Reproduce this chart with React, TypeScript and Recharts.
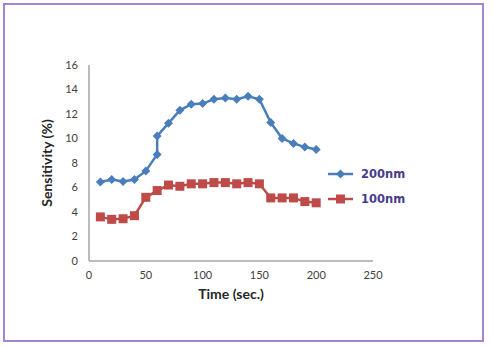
import { LineChart, Line, XAxis, YAxis, Legend } from "recharts";

// sensor response over time for two film thicknesses
const time200 = [10, 20, 30, 40, 50, 60, 60, 70, 80, 90, 100, 110, 120, 130, 140, 150, 160, 170, 180, 190, 200];
const sens200 = [6.45, 6.65, 6.5, 6.65, 7.35, 8.7, 10.2, 11.25, 12.3, 12.8, 12.85, 13.2, 13.3, 13.2, 13.45, 13.2, 11.3, 10.0, 9.6, 9.3, 9.1];

const time100 = [10, 20, 30, 40, 50, 60, 70, 80, 90, 100, 110, 120, 130, 140, 150, 160, 170, 180, 190, 200];
const sens100 = [3.6, 3.4, 3.45, 3.7, 5.2, 5.75, 6.2, 6.1, 6.3, 6.3, 6.4, 6.4, 6.3, 6.4, 6.3, 5.15, 5.15, 5.15, 4.85, 4.75];

const xTicks = [0, 50, 100, 150, 200, 250];
const yTicks = [0, 2, 4, 6, 8, 10, 12, 14, 16];

const BLUE = "#4a7ebb";
const RED = "#be4b48";
const AXIS = "#a6a6a6";
const FONT = "Lato, 'Open Sans', sans-serif";

const data200 = time200.map((t, i) => ({ t, v: sens200[i] }));
const data100 = time100.map((t, i) => ({ t, v: sens100[i] }));

const tickStyle = { fill: "#404040", fontSize: 11, fontFamily: FONT };

function Diamond(props: any) {
  const { cx, cy, index } = props;
  const r = 4.5;
  return (
    <path
      key={`d-${index}`}
      d={`M${cx},${cy - r}L${cx + r},${cy}L${cx},${cy + r}L${cx - r},${cy}Z`}
      fill={BLUE}
    />
  );
}

function Square(props: any) {
  const { cx, cy, index } = props;
  const s = 4.5;
  return <rect key={`s-${index}`} x={cx - s} y={cy - s} width={s * 2} height={s * 2} fill={RED} />;
}

function LegendBox() {
  const rows = [
    { name: "200nm", color: BLUE, square: false },
    { name: "100nm", color: RED, square: true },
  ];
  return (
    <div style={{ fontFamily: "'DejaVu Sans', sans-serif" }}>
      {rows.map((r) => (
        <div key={r.name} style={{ display: "flex", alignItems: "center", height: 25 }}>
          <svg width={30} height={12}>
            <line x1={2} y1={6} x2={27} y2={6} stroke={r.color} strokeWidth={2.5} />
            {r.square ? (
              <rect x={10} y={1.5} width={9} height={9} fill={r.color} />
            ) : (
              <path d="M14.5,1.5L19,6L14.5,10.5L10,6Z" fill={r.color} />
            )}
          </svg>
          <span style={{ marginLeft: 5, fontSize: 11.5, fontWeight: 700, color: "#4a3b8c" }}>{r.name}</span>
        </div>
      ))}
    </div>
  );
}

export default function App() {
  return (
    <div
      style={{
        position: "absolute",
        left: 0,
        top: 0,
        width: 494,
        height: 346,
        background: "#fff",
      }}
    >
      <div
        style={{
          position: "absolute",
          left: 3,
          top: 3,
          width: 477,
          height: 335,
          border: "2px solid #a386cf",
        }}
      />
      <LineChart
        width={494}
        height={346}
        margin={{ top: 65, right: 121, bottom: 40, left: 44 }}
        style={{ position: "absolute", left: 0, top: 0 }}
      >
        <XAxis
          dataKey="t"
          type="number"
          domain={[0, 250]}
          ticks={xTicks}
          tick={tickStyle}
          tickLine={false}
          tickMargin={4}
          axisLine={{ stroke: AXIS, strokeWidth: 1.5 }}
          height={45}
          allowDuplicatedCategory
          label={{
            value: "Time (sec.)",
            position: "insideBottom",
            offset: 7,
            style: { fill: "#262626", fontSize: 14, fontWeight: 700, fontFamily: FONT },
          }}
        />
        <YAxis
          type="number"
          domain={[0, 16]}
          ticks={yTicks}
          tick={tickStyle}
          tickLine={false}
          tickMargin={5}
          axisLine={{ stroke: AXIS, strokeWidth: 1.5 }}
          width={45}
          label={{
            value: "Sensitivity (%)",
            angle: -90,
            position: "insideLeft",
            offset: 3,
            style: { fill: "#262626", fontSize: 14, fontWeight: 700, fontFamily: FONT, textAnchor: "middle" },
          }}
        />
        <Legend
          layout="vertical"
          align="center"
          verticalAlign="middle"
          content={<LegendBox />}
          wrapperStyle={{ left: 326, top: 161, width: 120 }}
        />
        <Line
          data={data200}
          dataKey="v"
          name="200nm"
          stroke={BLUE}
          strokeWidth={2.5}
          dot={Diamond}
          activeDot={false}
          isAnimationActive={false}
        />
        <Line
          data={data100}
          dataKey="v"
          name="100nm"
          stroke={RED}
          strokeWidth={2.5}
          dot={Square}
          activeDot={false}
          isAnimationActive={false}
        />
      </LineChart>
    </div>
  );
}
